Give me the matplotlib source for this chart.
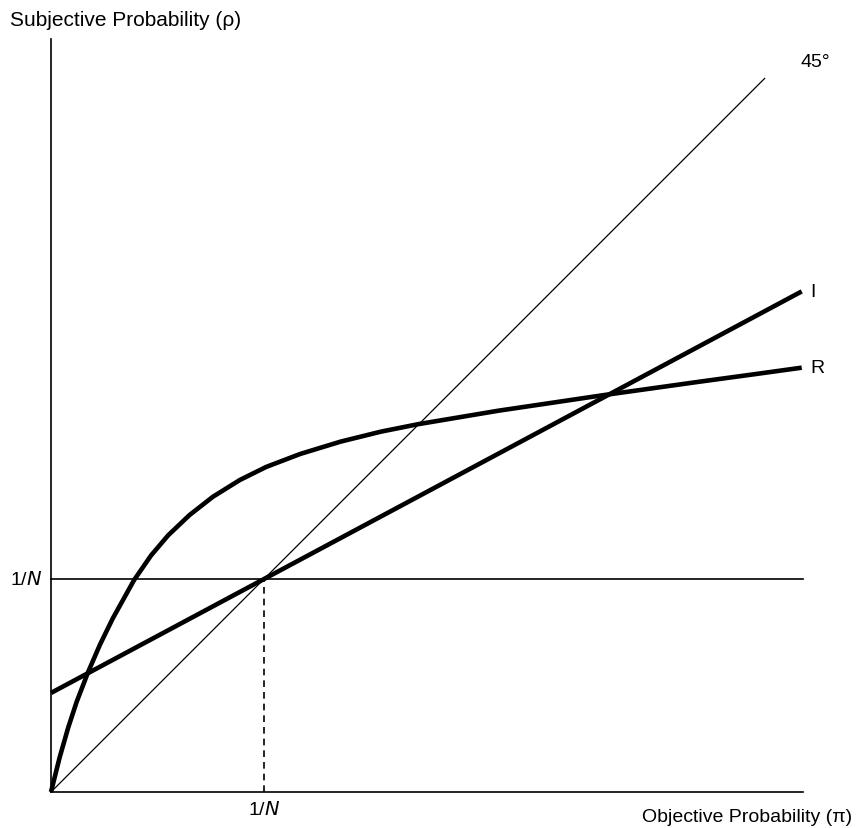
import numpy as np
import matplotlib
matplotlib.use("Agg")
import matplotlib.pyplot as plt

plt.rcParams['font.family'] = ['Liberation Sans', 'DejaVu Sans']

# everything in units of 1/N (1/N = 1)
inv_n = 1.0
x_max = 3.53
y_max = 3.535
diag_end = 3.35

# R curve
r_x = [0.0, 0.04, 0.08, 0.12, 0.175, 0.23, 0.29, 0.39, 0.47, 0.55, 0.65, 0.76,
       0.887, 1.01, 1.17, 1.36, 1.55, 1.725, 2.1, 2.6, 3.05, 3.3, 3.524]
r_y = [0.0, 0.16, 0.30, 0.422, 0.565, 0.692, 0.815, 0.995, 1.111, 1.205, 1.300, 1.386,
       1.465, 1.526, 1.587, 1.645, 1.692, 1.727, 1.790, 1.864, 1.927, 1.961, 1.992]

# I line: straight, through (1/N, 1/N)
i_x = [0.0, 3.524]
i_y = [0.465, 2.35]

fig = plt.figure(figsize=(8.56, 8.29), dpi=100)
ax = fig.add_axes([51 / 856, 36 / 829, 752 / 856, 753 / 829])
ax.set_xlim(0, x_max)
ax.set_ylim(0, y_max)
ax.spines['top'].set_visible(False)
ax.spines['right'].set_visible(False)
for s in ['left', 'bottom']:
    ax.spines[s].set_linewidth(1.2)
    ax.spines[s].set_color('black')
ax.set_xticks([])
ax.set_yticks([])

# 45 degree line
ax.plot([0, diag_end], [0, diag_end], color='black', lw=0.9, clip_on=False)
# 1/N horizontal and dashed drop
ax.plot([0, x_max], [inv_n, inv_n], color='black', lw=1.2, clip_on=False)
ax.plot([inv_n, inv_n], [0, inv_n], color='black', lw=1.2, ls=(0, (4, 3)))

ax.plot(i_x, i_y, color='black', lw=3.3, solid_capstyle='butt', clip_on=False)
ax.plot(r_x, r_y, color='black', lw=3.3, solid_capstyle='butt',
        solid_joinstyle='round', clip_on=False)

fs = 14
ax.text(i_x[-1] + 0.04, i_y[-1], 'I', fontsize=fs, ha='left', va='center')
ax.text(r_x[-1] + 0.04, r_y[-1], 'R', fontsize=fs, ha='left', va='center')
ax.text(diag_end + 0.17, diag_end + 0.08, '45°', fontsize=fs, ha='left', va='center')

fig.text(10 / 856, 1 - 20 / 829, 'Subjective Probability (ρ)', fontsize=15,
         ha='left', va='center')
fig.text(852 / 856, 1 - 818 / 829, 'Objective Probability (π)', fontsize=fs,
         ha='right', va='center')
ax.text(-0.04, inv_n, '1/$\\it{N}$', fontsize=fs, ha='right', va='center')
ax.text(inv_n, -0.08, '1/$\\it{N}$', fontsize=fs, ha='center', va='center')

fig.savefig('out.png', dpi=100)
